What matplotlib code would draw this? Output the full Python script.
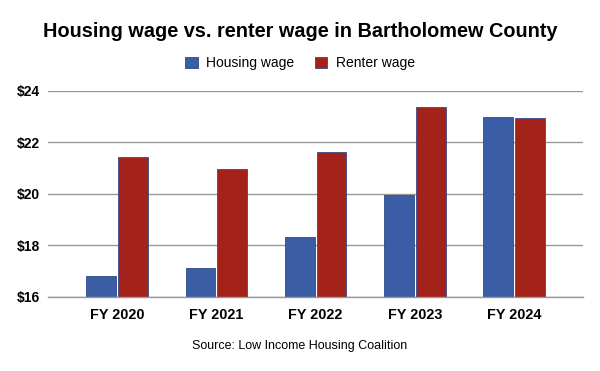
import numpy as np
import matplotlib.pyplot as plt

plt.rcParams['font.family'] = ['Liberation Sans', 'DejaVu Sans']

# Data
years = ['FY 2020', 'FY 2021', 'FY 2022', 'FY 2023', 'FY 2024']
housing_wage = [16.80, 17.11, 18.33, 19.97, 23.00]
renter_wage = [21.43, 20.97, 21.64, 23.38, 22.95]
y_ticks = [16, 18, 20, 22, 24]

blue = '#3a5da5'
red = '#a3231b'

fig = plt.figure(figsize=(6, 3.71), dpi=100)
ax = fig.add_axes([0.08, 0.2, 0.892, 0.555])

x = np.arange(len(years))
w = 0.30
ax.bar(x - w / 2 - 0.01, housing_wage, width=w, color=blue,
       edgecolor='#2c4a8a', linewidth=0.6, label='Housing wage', zorder=3)
ax.bar(x + w / 2 + 0.01, renter_wage, width=w, color=red,
       edgecolor='#3a4a8a', linewidth=0.6, label='Renter wage', zorder=3)

ax.set_ylim(16, 24)
ax.set_xlim(-0.695, 4.695)
ax.set_yticks(y_ticks)
ax.set_yticklabels([f'${v}' for v in y_ticks], fontsize=10, fontweight='bold')
ax.set_xticks(x)
ax.set_xticklabels(years, fontsize=10.4, fontweight='bold')
ax.tick_params(length=0, pad=8)
ax.tick_params(axis='y', pad=6)
ax.grid(axis='y', color='#999999', linewidth=1.0, zorder=0)
ax.axhline(16, color='#999999', linewidth=1.0, zorder=4, clip_on=False)
for s in ax.spines.values():
    s.set_visible(False)

fig.text(0.5, 0.915, 'Housing wage vs. renter wage in Bartholomew County',
         ha='center', va='center', fontsize=14.3, fontweight='bold')
fig.legend(loc='center', bbox_to_anchor=(0.5, 0.83), ncol=2, frameon=False,
           fontsize=10, handlelength=0.9, handleheight=0.9, columnspacing=1.5,
           handletextpad=0.6)
fig.text(0.5, 0.068, 'Source: Low Income Housing Coalition', ha='center',
         va='center', fontsize=9)

fig.savefig('out.png', dpi=100)
